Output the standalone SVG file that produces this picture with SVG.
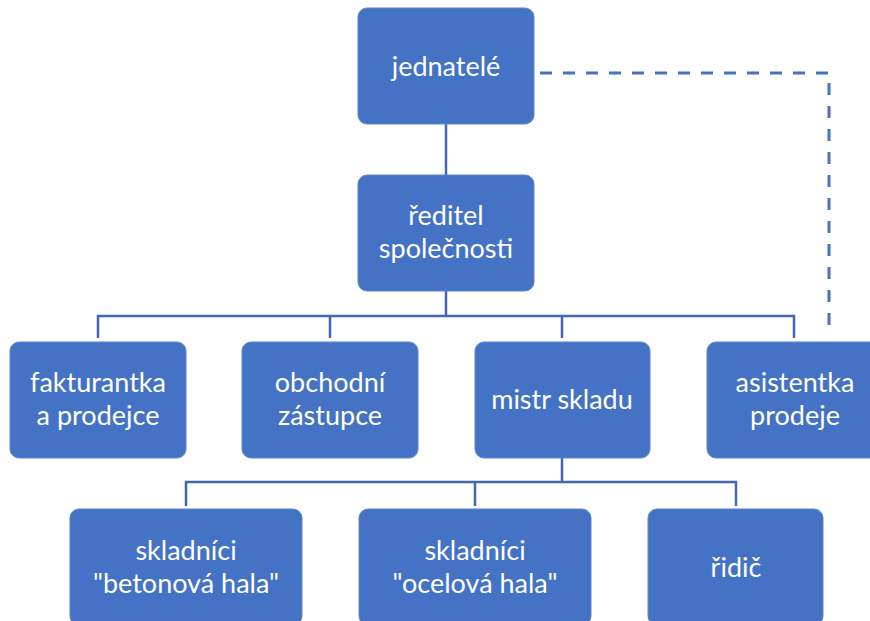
<svg xmlns="http://www.w3.org/2000/svg" width="870" height="621" viewBox="0 0 870 621">
<style>
.box{fill:#4472C4;stroke:#5B84CC;stroke-width:1}
.t{font-family:Lato,"Open Sans","DejaVu Sans",sans-serif;font-size:27px;fill:#ffffff;text-anchor:middle}
.c{fill:none;stroke:#4169B0;stroke-width:2.5}
.d{fill:none;stroke:#4472C4;stroke-width:3;stroke-dasharray:12 11}
</style>
<rect width="870" height="621" fill="#ffffff"/>
<g id="connectors">
<path class="c" d="M446 124V175"/>
<path class="c" d="M446 291V316M98 338V316H794V338M330 316V338M562 316V338"/>
<path class="c" d="M562 458V482M186 506V482H736V506M475 482V506"/>
<path class="d" d="M540 73H829V336"/>
</g>
<g id="jednatele"><rect class="box" x="358" y="8" width="176" height="116" rx="9"/><text class="t" x="446" y="76">jednatelé</text></g>
<g id="reditel"><rect class="box" x="358" y="175" width="176" height="116" rx="9"/><text class="t" x="446" y="225">ředitel</text><text class="t" x="446" y="258">společnosti</text></g>
<g id="fakturantka"><rect class="box" x="10" y="342" width="176" height="116" rx="9"/><text class="t" x="98" y="392">fakturantka</text><text class="t" x="98" y="425">a prodejce</text></g>
<g id="obchodni"><rect class="box" x="242" y="342" width="176" height="116" rx="9"/><text class="t" x="330" y="392">obchodní</text><text class="t" x="330" y="425">zástupce</text></g>
<g id="mistr"><rect class="box" x="475" y="342" width="175" height="116" rx="9"/><text class="t" x="562" y="409">mistr skladu</text></g>
<g id="asistentka"><rect class="box" x="707" y="342" width="176" height="116" rx="9"/><text class="t" x="795" y="392">asistentka</text><text class="t" x="795" y="425">prodeje</text></g>
<g id="betonova"><rect class="box" x="70" y="509" width="232" height="116" rx="9"/><text class="t" x="186" y="560">skladníci</text><text class="t" x="186" y="593">"betonová hala"</text></g>
<g id="ocelova"><rect class="box" x="359" y="509" width="232" height="116" rx="9"/><text class="t" x="475" y="560">skladníci</text><text class="t" x="475" y="593">"ocelová hala"</text></g>
<g id="ridic"><rect class="box" x="648" y="509" width="175" height="116" rx="9"/><text class="t" x="736" y="577">řidič</text></g>
</svg>
